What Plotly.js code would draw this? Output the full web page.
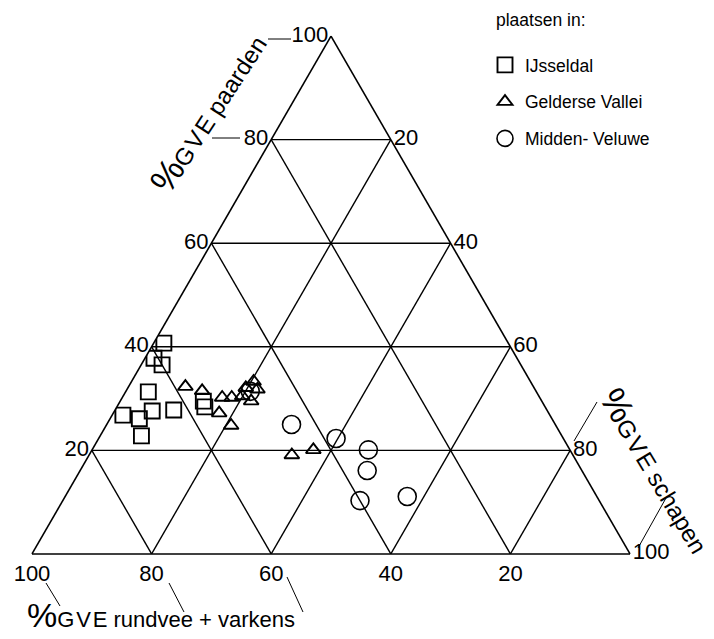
<!DOCTYPE html>
<html>
<head>
<meta charset="utf-8">
<script src="https://cdn.plot.ly/plotly-3.0.1.min.js"></script>
<style>
  html, body { margin: 0; padding: 0; background: #fff; }
  #chart { width: 714px; height: 639px; }
</style>
</head>
<body>
<div id="chart"></div>
<script>
// ==========================================================================
// Data: % GVE (grootvee-eenheden) per plaats
// a = paarden, b = rundvee + varkens, c = schapen
// ==========================================================================
const ijsseldalPaarden  = [40.7, 37.8, 36.5, 31.3, 27.6, 27.8, 26.8, 26.1, 22.8, 29.5, 28.4];
const ijsseldalRundvee  = [57.6, 60.7, 60.0, 64.9, 66.1, 62.4, 71.4, 69.0, 70.3, 56.6, 56.9];
const ijsseldalSchapen  = [ 1.7,  1.5,  3.5,  3.8,  6.3,  9.8,  1.8,  4.9,  6.9, 13.9, 14.7];

const valleiPaarden = [32.3, 31.5, 30.2, 30.2, 30.5, 33.3, 31.8, 29.5, 27.2, 24.8, 19.1, 20.1, 32.1];
const valleiRundvee = [58.2, 55.8, 53.1, 51.5, 49.6, 46.3, 46.4, 48.6, 55.1, 54.3, 47.0, 42.9, 48.2];
const valleiSchapen = [ 9.5, 12.7, 16.7, 18.3, 19.9, 20.4, 21.8, 21.9, 17.7, 20.9, 33.9, 37.0, 19.7];

const veluwePaarden = [31.4, 25.0, 22.3, 20.1, 16.1, 10.3, 11.1];
const veluweRundvee = [47.8, 44.1, 38.0, 33.7, 35.9, 40.0, 31.7];
const veluweSchapen = [20.8, 30.9, 39.7, 46.2, 48.0, 49.7, 57.2];

const tickVals = [20, 40, 60, 80, 100];
const tickText = ['20', '40', '60', '80', '100'];

const W = 714, H = 639;
const FONT = 'Liberation Sans, Arial, sans-serif';

// pixel -> paper helpers for the decorations (titles, leader lines)
const px = x => x / W;
const py = y => 1 - y / H;

function leader(x0, y0, x1, y1) {
    return {
        type: 'line', xref: 'paper', yref: 'paper',
        x0: px(x0), y0: py(y0), x1: px(x1), y1: py(y1),
        line: { color: '#000', width: 1 }
    };
}

const axisStyle = {
    tickvals: tickVals,
    ticktext: tickText,
    ticks: '',
    tickfont: { family: FONT, size: 22, color: '#000' },
    showgrid: true,
    gridcolor: '#000',
    gridwidth: 1.4,
    linecolor: '#000',
    linewidth: 1.6,
    title: { text: '' }
};

const traces = [
    {
        type: 'scatterternary', mode: 'markers', name: 'IJsseldal', legendgroup: 'g1',
        a: ijsseldalPaarden, b: ijsseldalRundvee, c: ijsseldalSchapen,
        marker: { symbol: 'square-open', size: 15, color: '#000', line: { width: 1.9 } }
    },
    {
        type: 'scatterternary', mode: 'markers', name: 'Gelderse Vallei', legendgroup: 'g2',
        a: valleiPaarden, b: valleiRundvee, c: valleiSchapen,
        marker: { symbol: 'triangle-up-open', size: 13, color: '#000', line: { width: 1.9 } }
    },
    {
        type: 'scatterternary', mode: 'markers', name: 'Midden- Veluwe', legendgroup: 'g3',
        a: veluwePaarden, b: veluweRundvee, c: veluweSchapen,
        marker: { symbol: 'circle-open', size: 18, color: '#000', line: { width: 1.6 } }
    }
];

const layout = {
    width: W,
    height: H,
    margin: { l: 0, r: 0, t: 0, b: 0 },
    paper_bgcolor: '#fff',
    font: { family: FONT, color: '#000' },
    ternary: {
        sum: 100,
        domain: { x: [px(32), px(630)], y: [py(554), py(36)] },
        bgcolor: '#fff',
        aaxis: Object.assign({}, axisStyle),
        baxis: Object.assign({}, axisStyle),
        caxis: Object.assign({}, axisStyle)
    },
    showlegend: true,
    legend: {
        x: px(485), y: py(47), xanchor: 'left', yanchor: 'top',
        font: { family: FONT, size: 17.5, color: '#000' },
        tracegroupgap: 11,
        itemsizing: 'trace',
        bgcolor: 'rgba(0,0,0,0)'
    },
    annotations: [
        {
            // legend heading
            xref: 'paper', yref: 'paper', x: px(494), y: py(20),
            xanchor: 'left', yanchor: 'middle', showarrow: false,
            text: 'plaatsen in:',
            font: { family: FONT, size: 17.5, color: '#000' }
        },
        {
            xref: 'paper', yref: 'paper', x: px(207), y: py(113),
            xanchor: 'center', yanchor: 'middle', textangle: -57, showarrow: false,
            text: '<span style="font-size:36px">%</span>G\u200AV\u200AE paarden',
            font: { family: FONT, size: 24, color: '#000' }
        },
        {
            xref: 'paper', yref: 'paper', x: px(657), y: py(470),
            xanchor: 'center', yanchor: 'middle', textangle: 59, showarrow: false,
            text: '<span style="font-size:36px">%</span>G\u200AV\u200AE schapen',
            font: { family: FONT, size: 24, color: '#000' }
        },
        {
            xref: 'paper', yref: 'paper', x: px(25), y: py(615),
            xanchor: 'left', yanchor: 'middle', showarrow: false,
            text: '<span style="font-size:34px">%</span>G\u200AV\u200AE rundvee + varkens',
            font: { family: FONT, size: 22, color: '#000' }
        }
    ],
    shapes: [
        leader(268, 39, 291, 39),
        leader(212, 138, 240, 138),
        leader(46, 583, 60, 606),
        leader(169, 583, 184, 612),
        leader(287, 577, 303, 612),
        leader(574, 441, 597, 402),
        leader(638, 548, 666, 498)
    ]
};

Plotly.newPlot('chart', traces, layout, { displayModeBar: false, staticPlot: true });
</script>
</body>
</html>
